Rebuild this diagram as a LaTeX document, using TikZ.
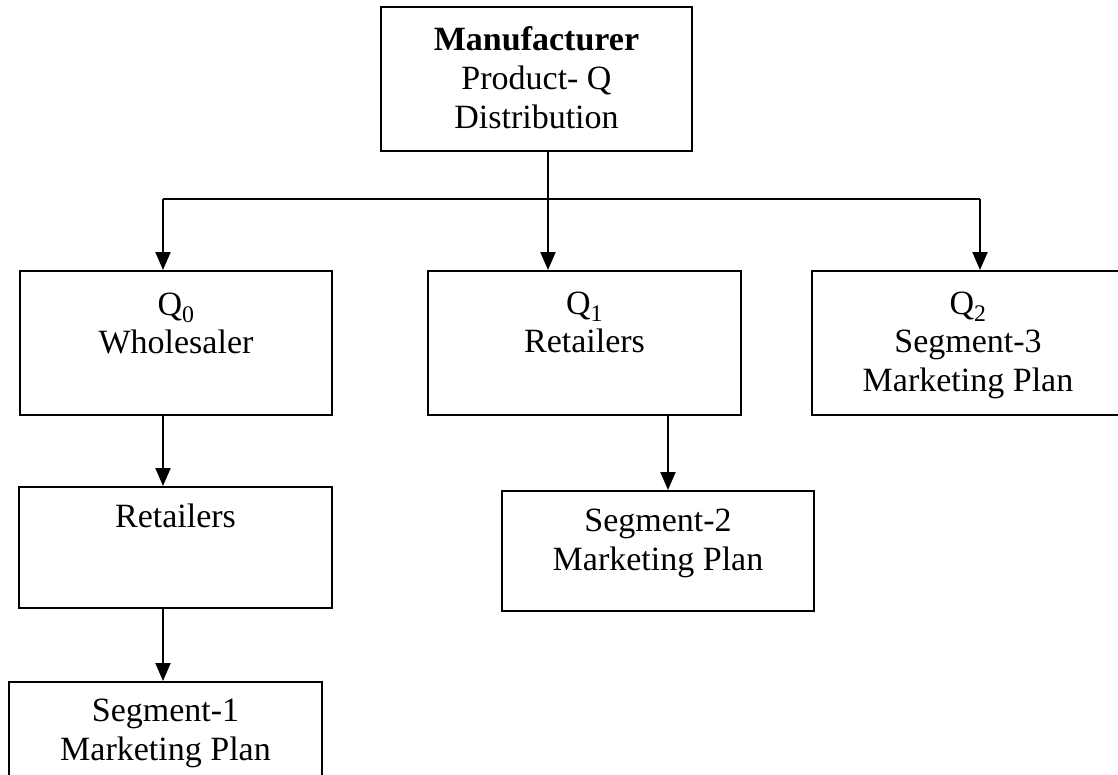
\documentclass[tikz,border=0pt]{standalone}
\usepackage{fontspec}
\setmainfont{Liberation Serif}
\usetikzlibrary{arrows.meta}

\tikzset{
  box/.style={draw, line width=2pt, minimum width=312pt, minimum height=144pt, inner sep=0pt},
  txt/.style={anchor=north, align=center, inner sep=0pt, font=\fontsize{34}{39}\selectfont},
  arr/.style={line width=2pt, -{Triangle[width=15pt,length=18pt]}},
}

\begin{document}
\begin{tikzpicture}[x=1pt, y=-1pt]
    \clip (0,0) rectangle (1118,774) ;

    \node [box, minimum width=311pt, label={[txt, yshift=-20pt]north:{\textbf{Manufacturer}\\Product- Q\\Distribution}}] (mfr) at (536.5,79) {} ;

    \node [box, label={[txt, yshift=-23pt]north:{Q\textsubscript{0}\\[-1pt]Wholesaler}}] (q0) at (176,343) {} ;
    \node [box, minimum width=313pt, label={[txt, yshift=-22pt]north:{Q\textsubscript{1}\\[-1pt]Retailers}}] (q1) at (584.5,343) {} ;
    \node [box, label={[txt, yshift=-22pt]north:{Q\textsubscript{2}\\[-1pt]Segment-3\\Marketing Plan}}] (q2) at (968,343) {} ;

    \node [box, minimum width=313pt, minimum height=121pt, label={[txt, yshift=-18pt]north:{Retailers}}] (ret) at (175.5,547.5) {} ;
    \node [box, minimum width=313pt, minimum height=121pt, label={[txt, yshift=-18pt]north:{Segment-1\\Marketing Plan}}] (seg1) at (165.5,742.5) {} ;
    \node [box, minimum height=120pt, label={[txt, yshift=-19pt]north:{Segment-2\\Marketing Plan}}] (seg2) at (658,551) {} ;

    % the bus under the manufacturer
    \coordinate (split) at (548,199) ;
    \coordinate (busL) at (163,199) ;
    \coordinate (busR) at (980,199) ;
    \coordinate (drop2) at (668,0) ;

    \draw [arr] (mfr.south -| split) -- (q1.north -| split) ;
    \draw [line width=2pt] (busL) -- (busR) ;
    \draw [arr] (busL) -- (busL |- q0.north) ;
    \draw [arr] (busR) -- (busR |- q2.north) ;

    \draw [arr] (q0.south -| busL) -- (ret.north -| busL) ;
    \draw [arr] (ret.south -| busL) -- (seg1.north -| busL) ;
    \draw [arr] (q1.south -| drop2) -- (seg2.north -| drop2) ;
\end{tikzpicture}
\end{document}
